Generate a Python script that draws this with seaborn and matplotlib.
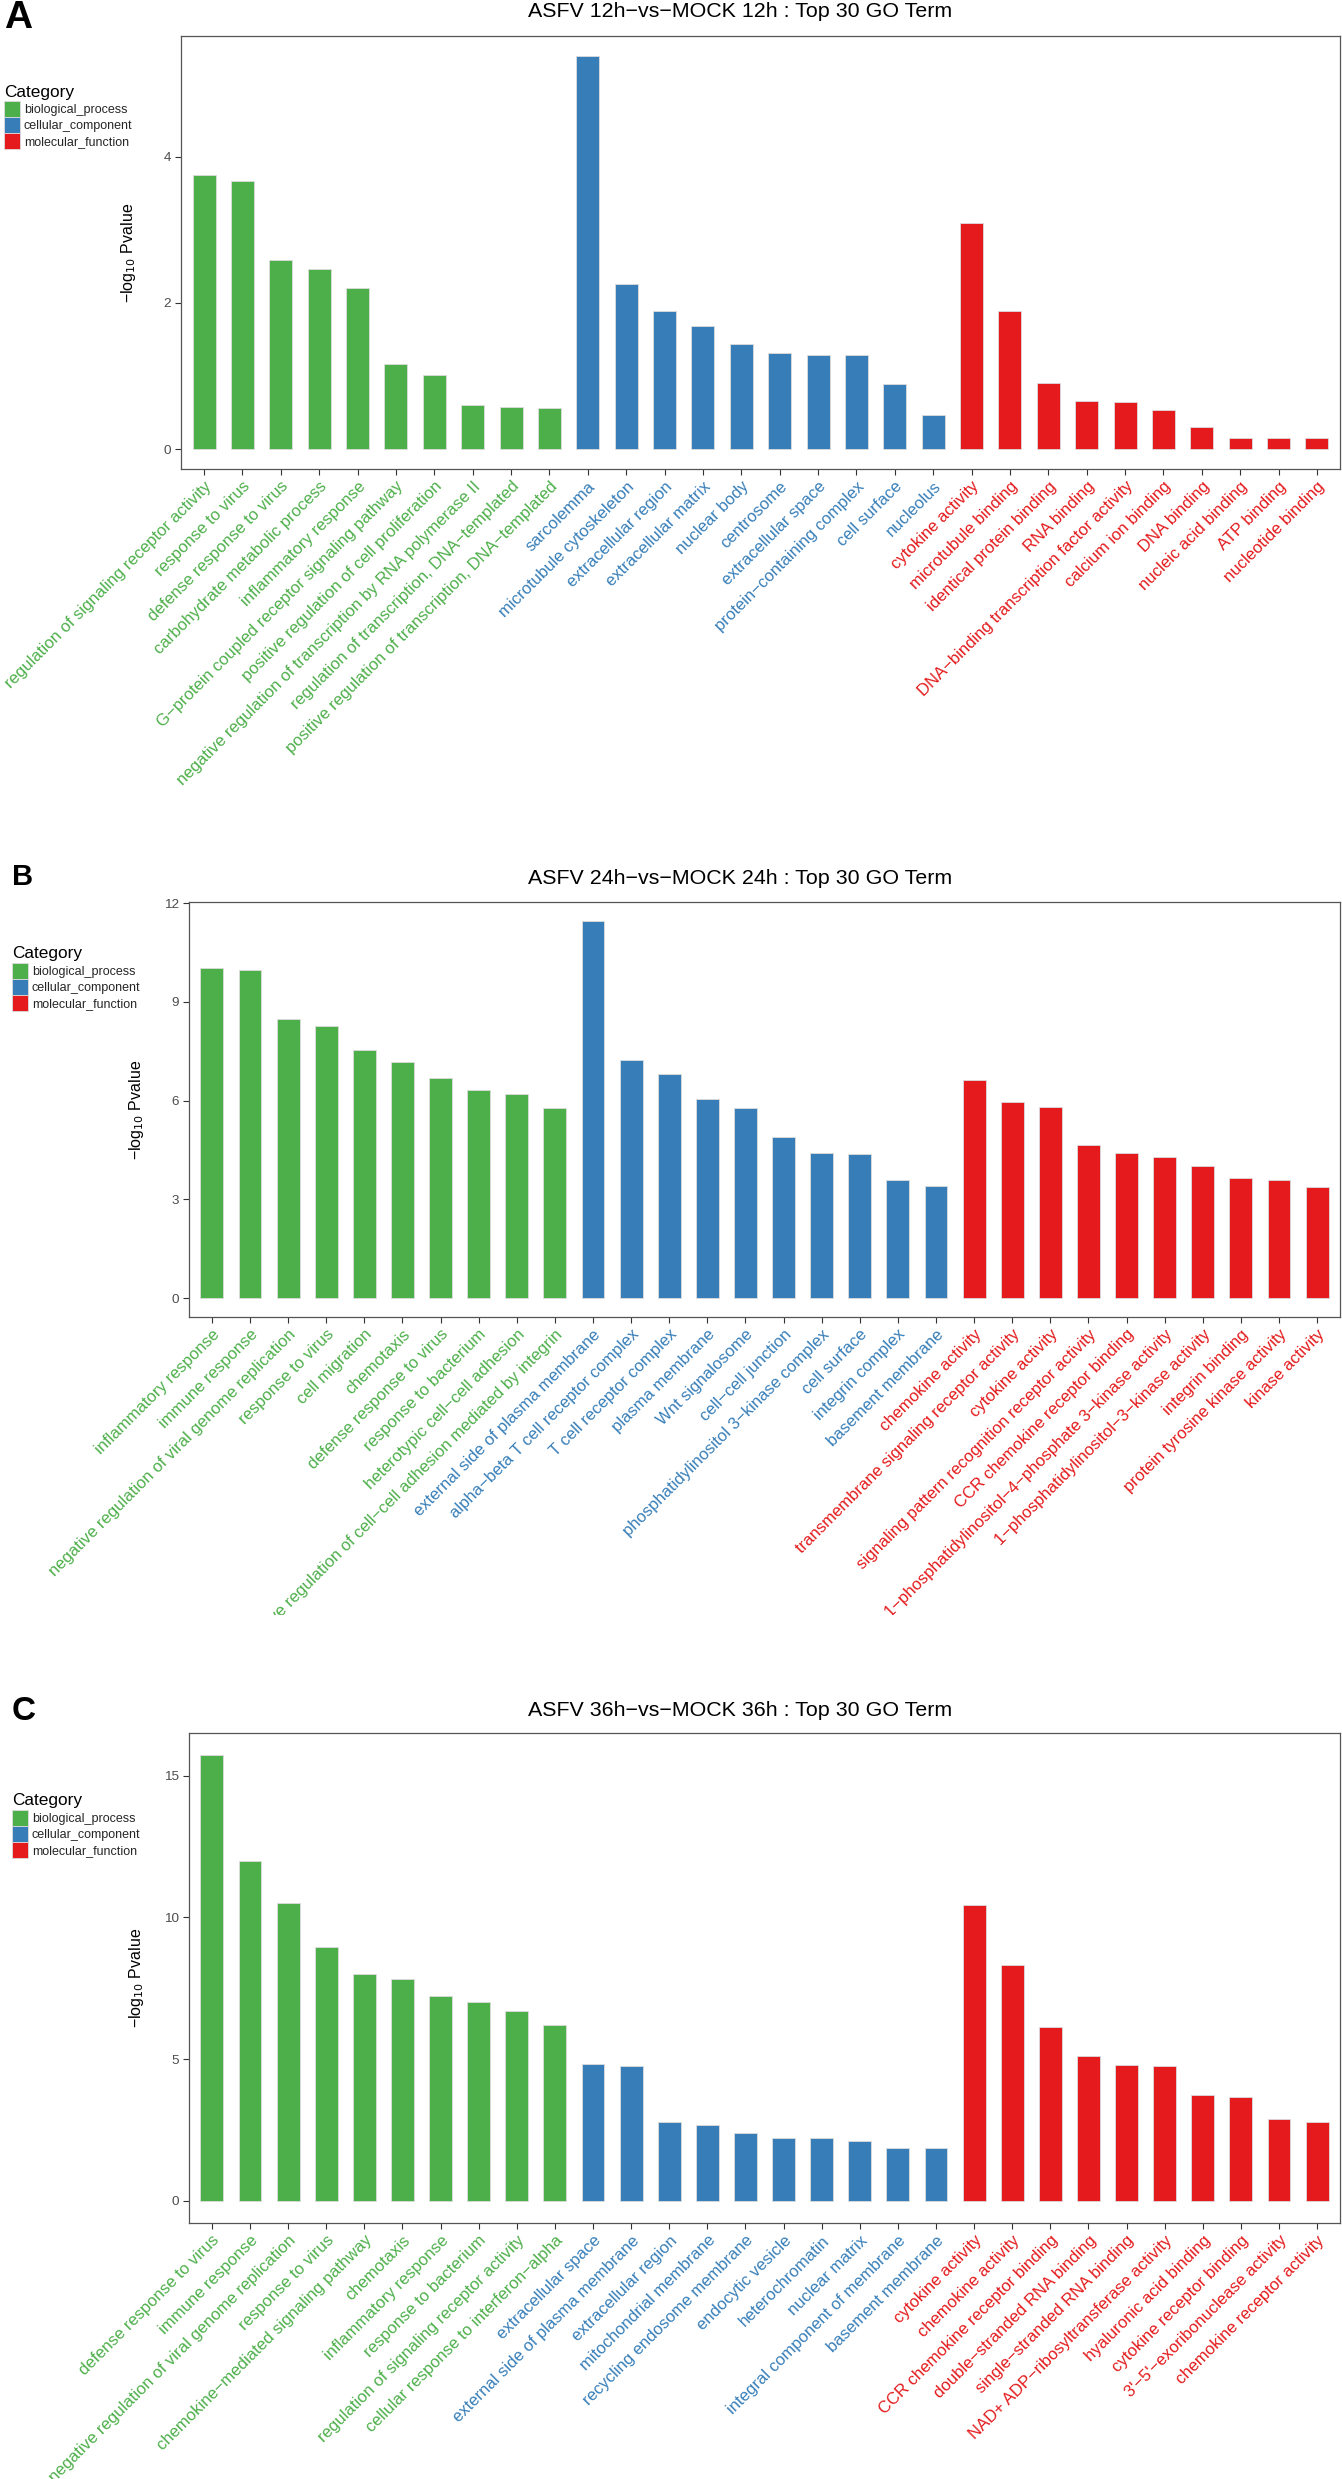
import numpy as np
import pandas as pd
import matplotlib
matplotlib.use("Agg")
import matplotlib.pyplot as plt
import seaborn as sns
from matplotlib.patches import Patch
from matplotlib.transforms import Bbox, TransformedBbox

sns.set_theme(style="white")
plt.rcParams['font.family'] = ['Liberation Sans', 'DejaVu Sans']
plt.rcParams['axes.unicode_minus'] = True

M = "\u2212"

categories = ["biological_process", "cellular_component", "molecular_function"]
cat_colors = ["#4DAF4A", "#377EB8", "#E41A1C"]

# ---------------- Panel A ----------------
a_title = f"ASFV 12h{M}vs{M}MOCK 12h : Top 30 GO Term"
a_bp_terms = ["regulation of signaling receptor activity", "response to virus",
              "defense response to virus", "carbohydrate metabolic process",
              "inflammatory response", f"G{M}protein coupled receptor signaling pathway",
              "positive regulation of cell proliferation",
              "negative regulation of transcription by RNA polymerase II",
              f"regulation of transcription, DNA{M}templated",
              f"positive regulation of transcription, DNA{M}templated"]
a_bp_vals = [3.75, 3.67, 2.59, 2.47, 2.20, 1.17, 1.02, 0.61, 0.58, 0.56]
a_cc_terms = ["sarcolemma", "microtubule cytoskeleton", "extracellular region",
              "extracellular matrix", "nuclear body", "centrosome",
              "extracellular space", f"protein{M}containing complex",
              "cell surface", "nucleolus"]
a_cc_vals = [5.38, 2.26, 1.89, 1.69, 1.44, 1.31, 1.29, 1.29, 0.89, 0.47]
a_mf_terms = ["cytokine activity", "microtubule binding", "identical protein binding",
              "RNA binding", f"DNA{M}binding transcription factor activity",
              "calcium ion binding", "DNA binding", "nucleic acid binding",
              "ATP binding", "nucleotide binding"]
a_mf_vals = [3.10, 1.89, 0.90, 0.66, 0.64, 0.54, 0.31, 0.16, 0.15, 0.15]
a_yticks = [0, 2, 4]

# ---------------- Panel B ----------------
b_title = f"ASFV 24h{M}vs{M}MOCK 24h : Top 30 GO Term"
b_bp_terms = ["inflammatory response", "immune response",
              "negative regulation of viral genome replication", "response to virus",
              "cell migration", "chemotaxis", "defense response to virus",
              "response to bacterium", f"heterotypic cell{M}cell adhesion",
              f"positive regulation of cell{M}cell adhesion mediated by integrin"]
b_bp_vals = [10.02, 9.98, 8.49, 8.27, 7.54, 7.16, 6.70, 6.32, 6.20, 5.78]
b_cc_terms = ["external side of plasma membrane", f"alpha{M}beta T cell receptor complex",
              "T cell receptor complex", "plasma membrane", "Wnt signalosome",
              f"cell{M}cell junction", f"phosphatidylinositol 3{M}kinase complex",
              "cell surface", "integrin complex", "basement membrane"]
b_cc_vals = [11.46, 7.24, 6.81, 6.05, 5.78, 4.88, 4.42, 4.39, 3.58, 3.41]
b_mf_terms = ["chemokine activity", "transmembrane signaling receptor activity",
              "cytokine activity", "signaling pattern recognition receptor activity",
              "CCR chemokine receptor binding",
              f"1{M}phosphatidylinositol{M}4{M}phosphate 3{M}kinase activity",
              f"1{M}phosphatidylinositol{M}3{M}kinase activity", "integrin binding",
              "protein tyrosine kinase activity", "kinase activity"]
b_mf_vals = [6.62, 5.97, 5.82, 4.64, 4.42, 4.29, 4.01, 3.64, 3.58, 3.38]
b_yticks = [0, 3, 6, 9, 12]

# ---------------- Panel C ----------------
c_title = f"ASFV 36h{M}vs{M}MOCK 36h : Top 30 GO Term"
c_bp_terms = ["defense response to virus", "immune response",
              "negative regulation of viral genome replication", "response to virus",
              f"chemokine{M}mediated signaling pathway", "chemotaxis",
              "inflammatory response", "response to bacterium",
              "regulation of signaling receptor activity",
              f"cellular response to interferon{M}alpha"]
c_bp_vals = [15.72, 11.99, 10.50, 8.97, 8.01, 7.83, 7.22, 7.01, 6.70, 6.19]
c_cc_terms = ["extracellular space", "external side of plasma membrane",
              "extracellular region", "mitochondrial membrane",
              "recycling endosome membrane", "endocytic vesicle", "heterochromatin",
              "nuclear matrix", "integral component of membrane", "basement membrane"]
c_cc_vals = [4.81, 4.75, 2.77, 2.68, 2.40, 2.23, 2.20, 2.11, 1.87, 1.85]
c_mf_terms = ["cytokine activity", "chemokine activity", "CCR chemokine receptor binding",
              f"double{M}stranded RNA binding", f"single{M}stranded RNA binding",
              f"NAD+ ADP{M}ribosyltransferase activity", "hyaluronic acid binding",
              "cytokine receptor binding", f"3'{M}5'{M}exoribonuclease activity",
              "chemokine receptor activity"]
c_mf_vals = [10.44, 8.32, 6.12, 5.11, 4.79, 4.74, 3.73, 3.66, 2.88, 2.77]
c_yticks = [0, 5, 10, 15]

W, H = 1342, 2479
fig = plt.figure(figsize=(W / 100, H / 100), dpi=100)
fig.patch.set_facecolor("white")


def rect(left, top, right, bottom):
    return [left / W, 1 - bottom / H, (right - left) / W, (bottom - top) / H]


palette = dict(zip(categories, cat_colors))


def fy(y):
    return 1 - y / H


def panel(box, bp_t, bp_v, cc_t, cc_v, mf_t, mf_v, yticks, title, title_base,
          letter, letter_base, letter_size, leg_x, leg_title_base, key_top,
          clip_bottom=None):
    ax = fig.add_axes(rect(*box))
    terms = bp_t + cc_t + mf_t
    vals = bp_v + cc_v + mf_v
    cats = ([categories[0]] * len(bp_t) + [categories[1]] * len(cc_t)
            + [categories[2]] * len(mf_t))
    df = pd.DataFrame({"Term": terms, "Value": vals, "Category": cats})
    sns.barplot(data=df, x="Term", y="Value", hue="Category", hue_order=categories,
                order=terms, palette=palette, dodge=False, width=0.6,
                saturation=1, edgecolor="#dcdcdc", linewidth=0.6, legend=False,
                ax=ax)
    vmax = max(vals)
    ax.set_ylim(-0.05 * vmax, 1.05 * vmax)
    ax.set_xlim(-0.6, len(terms) - 0.4)
    ax.set_yticks(yticks)
    ax.set_yticklabels([str(t) for t in yticks], fontsize=9.7, color="#4D4D4D")
    ax.set_xticks(range(len(terms)))
    ax.set_xticklabels(terms, rotation=45, ha="right", va="top",
                       rotation_mode="anchor", fontsize=12)
    for lab, c in zip(ax.get_xticklabels(), cats):
        lab.set_color(palette[c])
    ax.tick_params(axis="both", which="both", length=4, width=0.8,
                   color="#333333", direction="out", bottom=True, left=True, pad=3)
    ax.set_xlabel("")
    ax.set_ylabel(f"{M}log$_{{10}}$ Pvalue", fontsize=11.5, color="black")
    ax.yaxis.set_label_coords(-0.037, 0.5)
    for s in ax.spines.values():
        s.set_visible(True)
        s.set_color("#555555")
        s.set_linewidth(0.9)
    ax.set_facecolor("white")
    ax.grid(False)

    if clip_bottom is not None:
        cb = TransformedBbox(Bbox([[0, fy(clip_bottom)], [1, 1]]), fig.transFigure)
        for lab in ax.get_xticklabels():
            lab.set_clip_box(cb)
            lab.set_clip_on(True)

    fig.text(740 / W, fy(title_base), title, ha="center", va="baseline",
             fontsize=15.4, color="black")
    fig.text(leg_x / W, fy(letter_base), letter, ha="left", va="baseline",
             fontsize=letter_size, fontweight="bold", color="black")

    fig.text(leg_x / W, fy(leg_title_base), "Category", ha="left", va="baseline",
             fontsize=12.4, color="black")
    handles = [Patch(facecolor=c, edgecolor="#dcdcdc", linewidth=0.6) for c in cat_colors]
    fig.legend(handles, categories, loc="upper left",
               bbox_to_anchor=(leg_x / W, fy(key_top)),
               frameon=False, fontsize=9,
               handlelength=1.28, handleheight=1.6, labelspacing=0.0,
               handletextpad=0.32, borderpad=0, borderaxespad=0)
    return ax


panel((181, 36, 1340, 469), a_bp_terms, a_bp_vals, a_cc_terms, a_cc_vals,
      a_mf_terms, a_mf_vals, a_yticks, a_title, 17, "A", 28, 28, 4, 97, 101)
panel((189, 902, 1340, 1317), b_bp_terms, b_bp_vals, b_cc_terms, b_cc_vals,
      b_mf_terms, b_mf_vals, b_yticks, b_title, 884, "B", 885, 21, 12, 958, 963,
      clip_bottom=1615)
panel((189, 1733, 1340, 2223), c_bp_terms, c_bp_vals, c_cc_terms, c_cc_vals,
      c_mf_terms, c_mf_vals, c_yticks, c_title, 1716, "C", 1720, 24, 12, 1805, 1810)

fig.savefig("out.png", dpi=100, facecolor="white")
